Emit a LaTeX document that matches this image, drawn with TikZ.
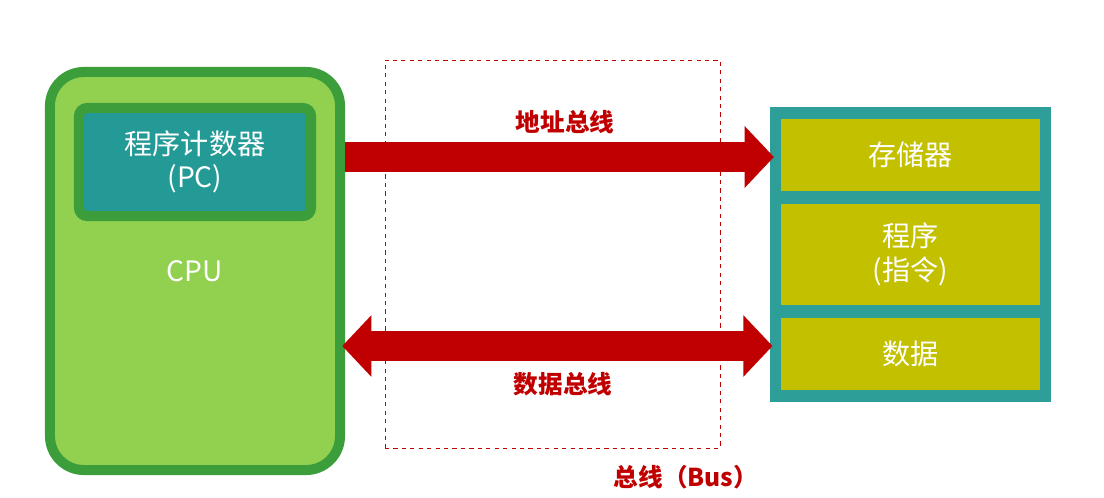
\documentclass[tikz,border=0pt]{standalone}
\usepackage{fontspec}
\setmainfont{Noto Sans CJK SC}
\usetikzlibrary{arrows.meta}

\definecolor{cpugreen}{HTML}{92D050}
\definecolor{darkgreen}{HTML}{3C9E3A}
\definecolor{pcteal}{HTML}{249A97}
\definecolor{memteal}{HTML}{2E9E99}
\definecolor{cellolive}{HTML}{C3C000}
\definecolor{busred}{HTML}{C00000}

\begin{document}
\begin{tikzpicture}[
    x=0.025cm, y=-0.025cm,
    whitetext/.style={text=white, font=\fontsize{20}{24}\selectfont, align=center},
    cpubox/.style={draw=darkgreen, fill=cpugreen, line width=0.25cm, rounded corners=0.85cm, minimum width=7.25cm, minimum height=9.95cm, whitetext},
    pcbox/.style={draw=darkgreen, fill=pcteal, line width=0.25cm, rounded corners=0.2cm, minimum width=5.8cm, minimum height=2.7cm, whitetext},
    membox/.style={fill=memteal, minimum width=7.025cm, minimum height=7.375cm},
    cell/.style={fill=cellolive, minimum width=6.475cm, whitetext},
    busbox/.style={draw=busred, dashed, line width=0.5pt, minimum width=8.375cm, minimum height=9.7cm},
    buslabel/.style={text=busred, font=\fontsize{17.5}{21}\selectfont\bfseries},
    bustip/.style={Triangle[length=0.73cm, width=1.5cm]},
    busarrow/.style={draw=busred, line width=0.75cm, line cap=butt, -{Triangle[length=0.73cm, width=1.5cm]}}
]
    \useasboundingbox (0,0) rectangle (1104,498);

    \node [busbox] (bus) at (552.5,254) {};

    \node [cpubox] (cpu) at (195,271) {CPU};
    \node [pcbox] (pc) at (195,162) {程序计数器\\(PC)};

    \node [membox] (mem) at (910.5,254.5) {};
    \node [cell, minimum height=1.8cm] (store) at (910.5,155) {存储器};
    \node [cell, minimum height=2.525cm] (prog) at (910.5,254.5) {程序\\(指令)};
    \node [cell, minimum height=1.8cm] (data) at (910.5,354) {数据};

    \coordinate (addr) at (cpu.east |- 0,157);
    \coordinate (dat) at ([xshift=-2]cpu.east |- 0,346);
    \draw [busarrow, shorten >=-3] (addr) -- (addr -| mem.west);
    \draw [busarrow, {Triangle[length=0.73cm, width=1.5cm]}-{Triangle[length=0.73cm, width=1.5cm]}, shorten >=-2] (dat) -- (dat -| mem.west);

    \node [buslabel] (addrlbl) at (565,122) {地址总线};
    \node [buslabel] (datalbl) at (563,384) {数据总线};
    \node [buslabel] (buslbl) at (686,477) {总线（Bus）};
\end{tikzpicture}
\end{document}
